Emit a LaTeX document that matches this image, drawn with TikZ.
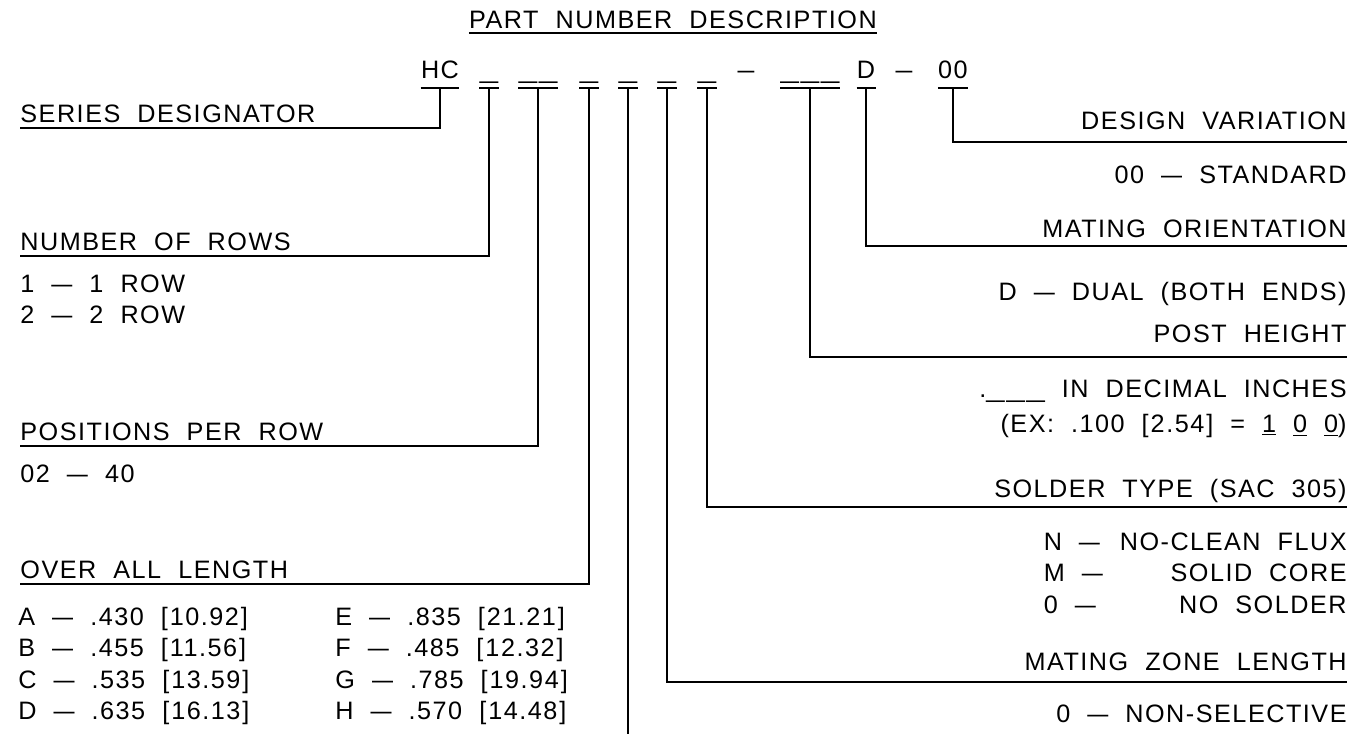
\documentclass[tikz,border=0pt]{standalone}
\usepackage{fontspec}
\setmainfont{Liberation Sans}[LetterSpace=6, WordSpace=2]
\usepackage{tikz}
\usetikzlibrary{calc}

% a blank field of the part number, and the long dash of the lists
\newcommand{\pnblank}{\scalebox{1.3}[1]{\_}}
\newcommand{\dsh}{\scalebox{1.5}[1]{--}}

\begin{document}
\begin{tikzpicture}[x=0.5pt,y=-0.5pt]
    % Define the styles for texts and leader lines
    \tikzstyle{desc}=[inner sep=0, font=\fontsize{12.6}{15.75}\selectfont];
    \tikzstyle{pn}=[desc, anchor=base];
    \tikzstyle{lft}=[desc, anchor=base west];
    \tikzstyle{rgt}=[desc, anchor=base east];
    \tikzstyle{leader}=[line width=1pt, black];

    \useasboundingbox (0,0) rectangle (1362,734);

    % Title
    \node[pn] (title) at (673,28) {PART NUMBER DESCRIPTION};
    \draw[leader] ([yshift=-2.5pt]title.base west) -- ([yshift=-2.5pt]title.base east);

    % Fields of the part number
    \node[pn] (hc)     at (440,78) {HC};
    \node[pn] (nrow)   at (489,78) {\pnblank};
    \node[pn] (ppr)    at (538,78) {\pnblank\kern1pt\pnblank};
    \node[pn] (oal)    at (589,78) {\pnblank};
    \node[pn] (spare)  at (628,78) {\pnblank};
    \node[pn] (mzl)    at (667,78) {\pnblank};
    \node[pn] (sol)    at (707,78) {\pnblank};
    \node[pn] (dasha)  at (746,78) {\scalebox{1.2}[1]{--}};
    \node[pn] (post)   at (810,78) {\pnblank\kern1pt\pnblank\kern1pt\pnblank};
    \node[pn] (orient) at (866,78) {D};
    \node[pn] (dashb)  at (904,78) {\scalebox{1.2}[1]{--}};
    \node[pn] (dvar)   at (953,78) {00};

    % Lines under the fields
    \foreach \f in {hc,nrow,ppr,oal,spare,mzl,sol,post,orient,dvar}
        \draw[leader] ([yshift=-5pt]\f.base west) -- ([yshift=-5pt]\f.base east);

    % Left hand descriptions
    \node[lft] (serlbl)  at (20,122) {SERIES DESIGNATOR};
    \node[lft] (nrowlbl) at (20,250) {NUMBER OF ROWS};
    \node[lft] (nrowval) at (20,292) {\begin{tabular}[t]{@{}l@{}}1 \dsh{} 1 ROW\\2 \dsh{} 2 ROW\end{tabular}};
    \node[lft] (pprlbl)  at (20,440) {POSITIONS PER ROW};
    \node[lft] (pprval)  at (20,482) {02 \dsh{} 40};
    \node[lft] (oallbl)  at (20,578) {OVER ALL LENGTH};
    \node[lft] (oalvala) at (18,625) {\begin{tabular}[t]{@{}l@{}}
        A \dsh{} .430 [\kern1pt10.92\kern1pt]\\B \dsh{} .455 [\kern1pt11.56\kern1pt]\\
        C \dsh{} .535 [\kern1pt13.59\kern1pt]\\D \dsh{} .635 [\kern1pt16.13\kern1pt]\end{tabular}};
    \node[lft] (oalvalb) at (335,625) {\begin{tabular}[t]{@{}l@{}}
        E \dsh{} .835 [\kern1pt21.21\kern1pt]\\F \dsh{} .485 [\kern1pt12.32\kern1pt]\\
        G \dsh{} .785 [\kern1pt19.94\kern1pt]\\H \dsh{} .570 [\kern1pt14.48\kern1pt]\end{tabular}};

    % Right hand descriptions
    \node[rgt] (dvarlbl)   at (1347,129) {DESIGN VARIATION};
    \node[rgt] (dvarval)   at (1347,183) {00 \dsh{} STANDARD};
    \node[rgt] (orientlbl) at (1347,237) {MATING ORIENTATION};
    \node[rgt] (orientval) at (1347,300) {D \dsh{} DUAL (BOTH ENDS)};
    \node[rgt] (postlbl)   at (1347,342) {POST HEIGHT};
    \node[rgt] (postval)   at (1347,397) {\begin{tabular}[t]{@{}r@{}}
        .\pnblank\kern1pt\pnblank\kern1pt\pnblank{} IN DECIMAL INCHES\\[1.75pt]
        (EX: .100 [\kern1pt2.54\kern1pt] = \underline{1} \underline{0} \underline{0})\end{tabular}};
    \node[rgt] (sollbl)    at (1347,497) {SOLDER TYPE (SAC 305)};
    \node[rgt] (solval)    at (1347,550) {\begin{tabular}[t]{@{}l@{\ }r@{}}
        N \dsh{} & NO-CLEAN FLUX\\M \dsh{} & SOLID CORE\\0 \dsh{} & NO SOLDER\end{tabular}};
    \node[rgt] (mzllbl)    at (1347,670) {MATING ZONE LENGTH};
    \node[rgt] (mzlval)    at (1347,722) {0 \dsh{} NON-SELECTIVE};

    % Leaders from the fields to the descriptions
    \draw[leader] ([yshift=-5pt]hc.base)   |- ([yshift=-3pt]serlbl.base west);
    \draw[leader] ([yshift=-5pt]nrow.base) |- ([yshift=-3pt]nrowlbl.base west);
    \draw[leader] ([yshift=-5pt]ppr.base)  |- ([yshift=-3pt]pprlbl.base west);
    \draw[leader] ([yshift=-5pt]oal.base)  |- ([yshift=-3pt]oallbl.base west);

    \draw[leader] ([yshift=-5pt]dvar.base)   |- ([yshift=-6.5pt]dvarlbl.base east);
    \draw[leader] ([yshift=-5pt]orient.base) |- ([yshift=-4.5pt]orientlbl.base east);
    \draw[leader] ([yshift=-5pt]post.base)   |- ([yshift=-7.5pt]postlbl.base east);
    \draw[leader] ([yshift=-5pt]sol.base)    |- ([yshift=-5pt]sollbl.base east);
    \draw[leader] ([yshift=-5pt]mzl.base)    |- ([yshift=-6pt]mzllbl.base east);

    % The open field runs down to the edge
    \coordinate (edge) at (628,734);
    \draw[leader] ([yshift=-5pt]spare.base) -- (spare |- edge);
\end{tikzpicture}
\end{document}
